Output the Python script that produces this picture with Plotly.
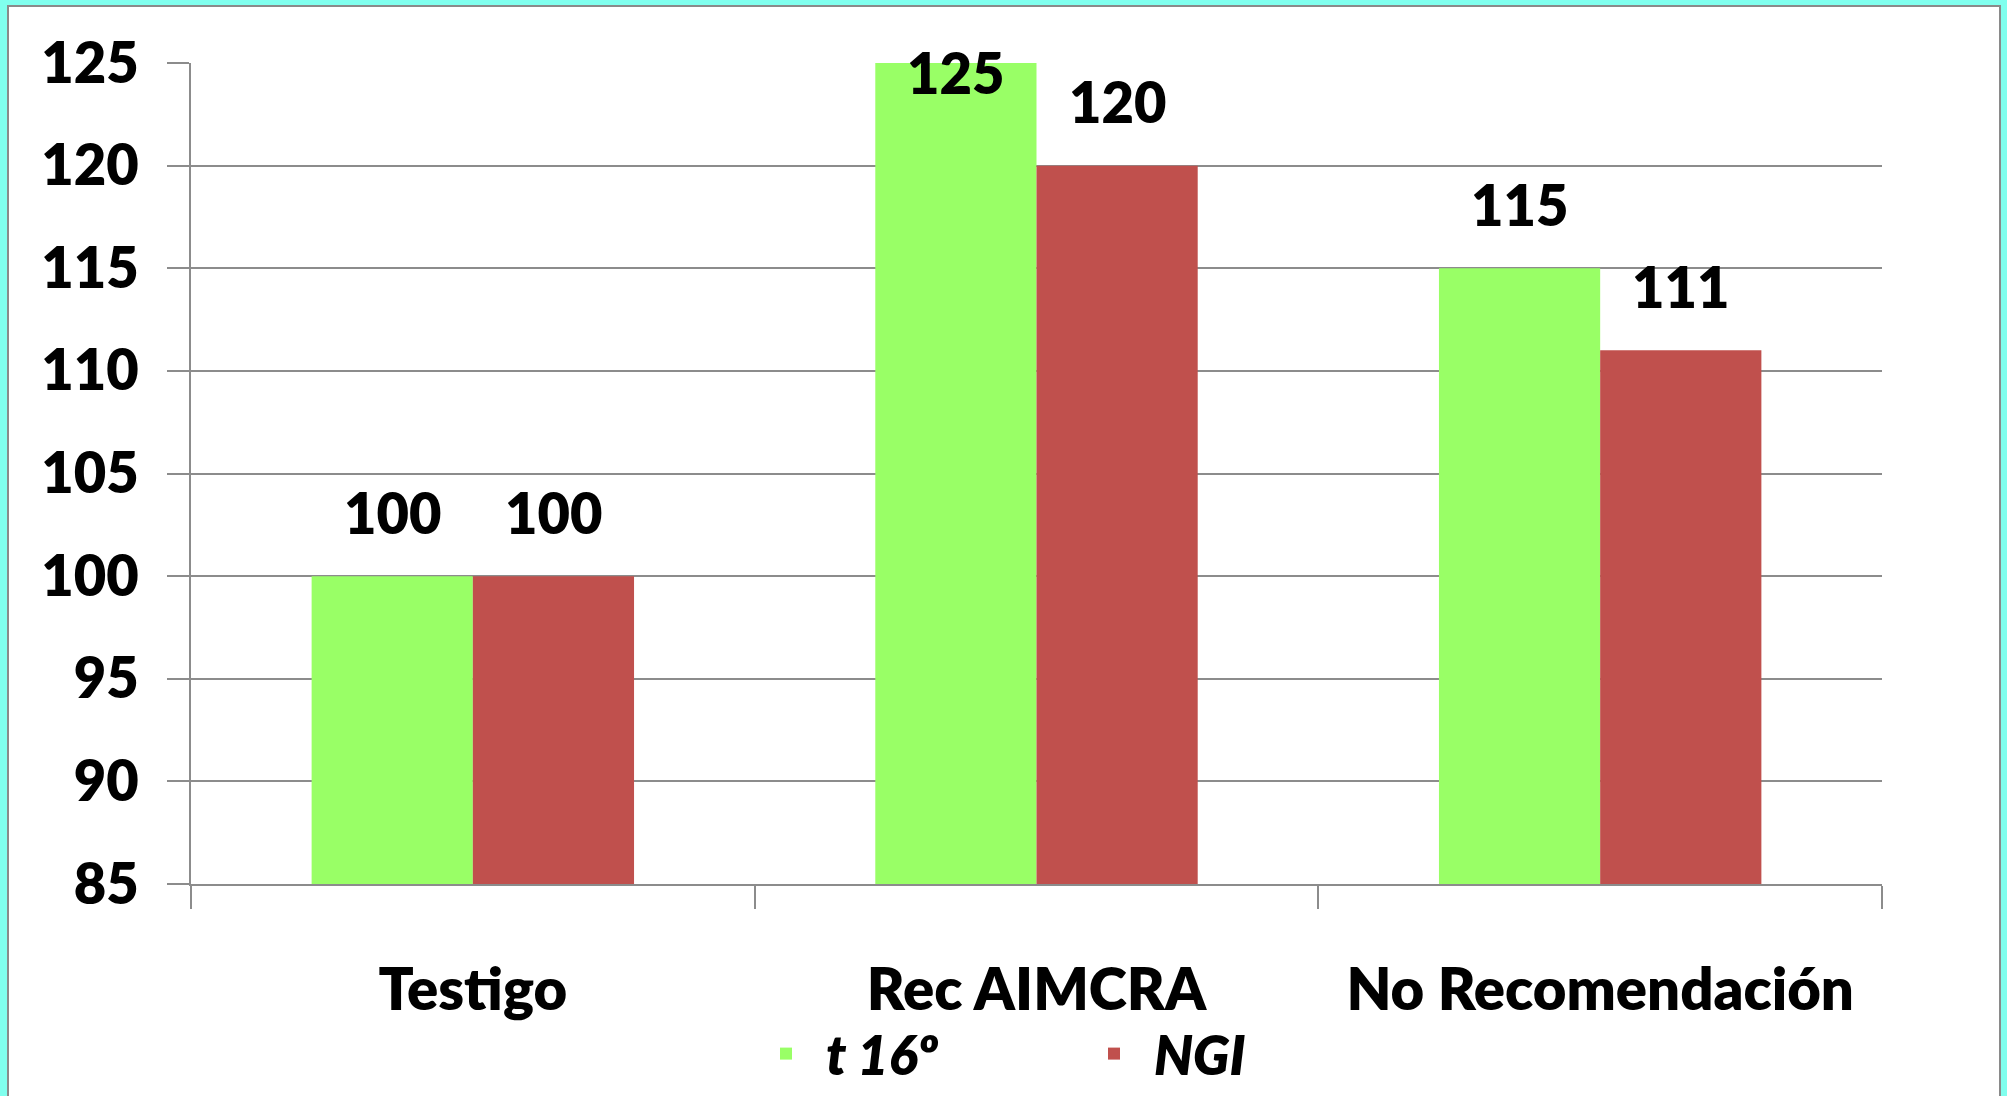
import plotly.graph_objects as go

# Data
categories = ["Testigo", "Rec AIMCRA", "No Recomendación"]
series_names = ["t 16º", "NGI"]
t16_values = [100, 125, 115]
ngi_values = [100, 120, 111]
y_ticks = [85, 90, 95, 100, 105, 110, 115, 120, 125]

# Styling
GREEN = "#99FF66"
RED = "#C0504D"
GRID = "#8C8C8C"
CYAN = "#80FFEE"
FONT = "Lato"
WEIGHT = 800
W, H = 2007, 1096
M_L, M_R, M_T, M_B = 191, 125, 63, 212
BARGAP = 0.428
Y_MIN, Y_MAX = y_ticks[0], y_ticks[-1]

plot_w = W - M_L - M_R
plot_h = H - M_T - M_B
px_per_unit = plot_h / (Y_MAX - Y_MIN)
cat_px = plot_w / len(categories)
half_bar_px = (1 - BARGAP) * cat_px / 4

fig = go.Figure()
fig.add_trace(go.Bar(x=categories, y=t16_values, name=series_names[0],
                     marker=dict(color=GREEN, line=dict(width=0))))
fig.add_trace(go.Bar(x=categories, y=ngi_values, name=series_names[1],
                     marker=dict(color=RED, line=dict(width=0))))

# Value labels above each bar (kept inside the plot when near the top)
label_gap = 64 / px_per_unit
top_limit = Y_MAX - 9 / px_per_unit
annotations = []
for values, sign in ((t16_values, -1), (ngi_values, 1)):
    for cat, v in zip(categories, values):
        annotations.append(dict(
            x=cat, y=min(v + label_gap, top_limit), xref="x", yref="y",
            text=str(v), showarrow=False, xshift=sign * half_bar_px,
            yanchor="middle", xanchor="center",
            font=dict(family=FONT, size=56, color="black", weight=WEIGHT),
        ))

# White card with grey border over the cyan page
x0 = (8 - M_L) / plot_w
x1 = (2000 - M_L) / plot_w
y1 = (H - M_B - 6) / plot_h
y0 = (H - M_B - (H + 20)) / plot_h
shapes = [dict(type="rect", xref="paper", yref="paper", x0=x0, x1=x1, y0=y0, y1=y1,
               fillcolor="white", line=dict(color="#8A8A8A", width=2), layer="below")]

fig.update_layout(
    width=W, height=H,
    margin=dict(l=M_L, r=M_R, t=M_T, b=M_B, autoexpand=False),
    paper_bgcolor=CYAN, plot_bgcolor="rgba(0,0,0,0)",
    barmode="group", bargap=BARGAP, bargroupgap=0,
    font=dict(family=FONT, color="black"),
    shapes=shapes, annotations=annotations,
    showlegend=True,
    legend=dict(orientation="h", x=(746 - M_L) / plot_w, y=-(1012 - (H - M_B)) / plot_h,
                xanchor="left", yanchor="top", bgcolor="rgba(0,0,0,0)",
                entrywidth=243, entrywidthmode="pixels", itemwidth=70,
                font=dict(family=FONT, size=54, color="black", weight=WEIGHT, style="italic")),
)

fig.update_xaxes(
    type="category", tickson="boundaries", ticks="outside", ticklen=23,
    tickcolor=GRID, tickwidth=2, showline=True, linecolor=GRID, linewidth=2,
    showgrid=False, ticklabelstandoff=54,
    tickfont=dict(family=FONT, size=58, color="black", weight=WEIGHT),
)
fig.update_yaxes(
    range=[Y_MIN, Y_MAX], tickvals=y_ticks, ticks="outside", ticklen=22,
    tickcolor=GRID, tickwidth=2, showline=True, linecolor=GRID, linewidth=2,
    showgrid=True, gridcolor=GRID, gridwidth=2, zeroline=False,
    ticklabelstandoff=17,
    tickfont=dict(family=FONT, size=56, color="black", weight=WEIGHT),
)

fig.write_html("out.html")
